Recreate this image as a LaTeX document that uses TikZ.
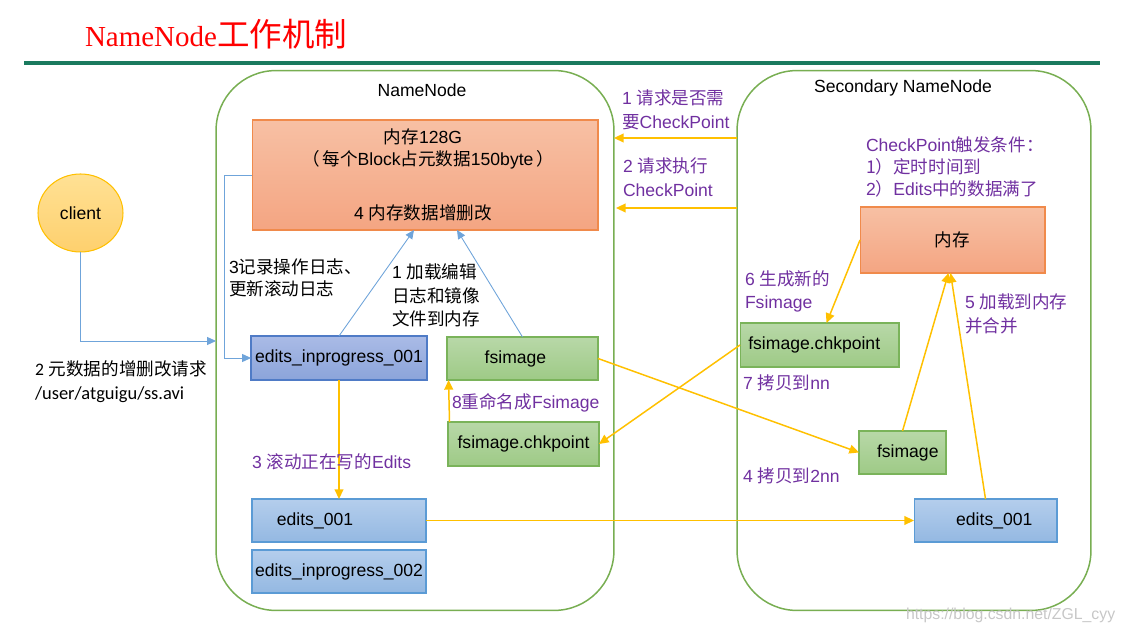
\documentclass[tikz,border=0pt]{standalone}
\usepackage{fontspec}
\setmainfont{Liberation Sans}
\newfontfamily\zh{Noto Sans CJK SC}
\newfontfamily\calib{Carlito}
\newfontfamily\serifnm{Liberation Serif}
\usetikzlibrary{arrows.meta,shapes.geometric,calc}
\definecolor{tgreen}{HTML}{1A7A5E}
\definecolor{cgreen}{HTML}{78AE52}
\definecolor{ycol}{HTML}{FFC000}
\definecolor{bcol}{HTML}{6FA4DA}
\definecolor{purp}{HTML}{7030A0}
\definecolor{orTop}{HTML}{F7C0A4}
\definecolor{orBot}{HTML}{F4A582}
\definecolor{orDraw}{HTML}{F08A4B}
\definecolor{dbTop}{HTML}{AABBE6}
\definecolor{dbBot}{HTML}{8BA4DA}
\definecolor{dbDraw}{HTML}{4F7BC6}
\definecolor{lbTop}{HTML}{B4CEEC}
\definecolor{lbBot}{HTML}{94B8E2}
\definecolor{lbDraw}{HTML}{5B9BD5}
\definecolor{gTop}{HTML}{B8D8A8}
\definecolor{gBot}{HTML}{9ECA86}
\definecolor{gDraw}{HTML}{7AB35A}
\definecolor{clTop}{HTML}{FFE194}
\definecolor{clBot}{HTML}{FED06E}
\definecolor{clDraw}{HTML}{FFC000}
\begin{document}
\begin{tikzpicture}[x=0.02cm,y=-0.02cm,
  every node/.style={font=\fontsize{10}{12.5}\selectfont, inner sep=0pt, outer sep=0pt},
  container/.style={draw=cgreen, line width=0.85pt, rounded corners=1.2cm, minimum height=10.8cm},
  orbox/.style={draw=orDraw, line width=0.6pt, top color=orTop, bottom color=orBot},
  dbbox/.style={draw=dbDraw, line width=0.6pt, top color=dbTop, bottom color=dbBot},
  lbbox/.style={draw=lbDraw, line width=0.6pt, top color=lbTop, bottom color=lbBot},
  gbox/.style={draw=gDraw, line width=0.6pt, top color=gTop, bottom color=gBot},
  ptext/.style={text=purp, align=left, anchor=west},
  btext/.style={text=black, align=left, anchor=west},
  yarrow/.style={draw=ycol, line width=0.85pt, -{Triangle[length=5.5pt,width=5pt]}},
  barrow/.style={draw=bcol, line width=0.5pt, -{Triangle[length=5pt,width=4.5pt]}},
]
\path[use as bounding box] (0,0) rectangle (1125,634);

% title
\node[text=red, anchor=base west] (title) at (85,47) {{\serifnm\fontsize{16.5}{18}\selectfont NameNode}{\zh\fontsize{18.5}{20}\selectfont 工作机制}};
\draw[tgreen, line width=2pt] (24,63) -- (1100,63);

% containers
\node[container, minimum width=7.96cm] (nn) at (415,340.5) {};
\node[container, minimum width=7.08cm] (snn) at (914,340.5) {};
\node (nnlabel) at (422,90) {NameNode};
\node (snnlabel) at (903,88) {Secondary NameNode};

% NameNode memory
\node[orbox, minimum width=6.92cm, minimum height=2.2cm] (mem) at (425,175) {};
\node (memA) at (423,137) {{\zh 内存}128G};
\node (memB) at (428,160) {{\zh （\,每个}Block{\zh 占元数据}150byte{\zh \,）}};
\node (memC) at (423,213) {4 {\zh 内存数据增删改}};

% client
\node[ellipse, draw=clDraw, line width=0.6pt, top color=clTop, bottom color=clBot, minimum width=1.7cm, minimum height=1.56cm] (client) at (80.5,213) {client};
\coordinate (cin) at (216,341);
\draw[barrow] (client.south) |- (cin);
\node[btext] (req) at (35,382) {{\calib 2} {\zh 元数据的增删改请求}\\[1pt]{\calib\fontsize{10.5}{12.5}\selectfont /user/atguigu/ss.avi}};

% NameNode boxes
\node[dbbox, minimum width=3.52cm, minimum height=0.88cm] (ei1) at (339,358) {edits\_inprogress\_001};
\node[gbox, minimum width=3.02cm, minimum height=0.86cm] (fs) at (522.5,358.5) {\hspace*{-8pt}fsimage};
\node[gbox, minimum width=3.02cm, minimum height=0.88cm] (chk) at (523.5,444) {fsimage.chkpoint};
\node[lbbox, minimum width=3.48cm, minimum height=0.86cm] (e1) at (339,520.5) {};
\node (e1t) at (315,521) {edits\_001};
\node[lbbox, minimum width=3.48cm, minimum height=0.86cm] (ei2) at (339,571.5) {edits\_inprogress\_002};

% blue connectors in NameNode
\draw[barrow] (mem.west) -- ++(-28,0) |- (ei1.west);
\draw[barrow] (ei1.north) -- ($(mem.south)+(-11,0)$);
\draw[barrow] (fs.north) -- ($(mem.south)+(32,0)$);
\node[btext] (rec) at (229,278) {3{\zh 记录操作日志、}\\{\zh 更新滚动日志}};
\node[btext] (load) at (392,295.5) {1 {\zh 加载编辑}\\[1pt]{\zh 日志和镜像}\\[1pt]{\zh 文件到内存}};

% yellow in NameNode
\draw[yarrow] ($(chk.north west)+(1.5,0)$) -- ($(fs.south west)+(1.5,0)$);
\node[ptext] (ren) at (452,403) {8{\zh 重命名成}Fsimage};
\draw[yarrow] (ei1.south) -- (ei1.south |- e1.north);
\node[ptext] (roll) at (252,462) {3 {\zh 滚动正在写的}Edits};

% requests between nodes
\coordinate (q1) at (0,138);
\coordinate (q2) at (0,208);
\draw[yarrow] (snn.west |- q1) -- (nn.east |- q1);
\draw[yarrow] (snn.west |- q2) -- ($(nn.east |- q2)+(2,0)$);
\node[ptext] (r1) at (622,110) {1 {\zh 请求是否需}\\[1pt]{\zh 要}CheckPoint};
\node[ptext] (r2) at (623,177) {2 {\zh 请求执行}\\[1pt]CheckPoint};

% Secondary NameNode
\node[ptext] (cond) at (866,166.5) {CheckPoint{\zh 触发条件：}\\{\zh 1）定时时间到}\\2{\zh ）}Edits{\zh 中的数据满了}};
\node[orbox, minimum width=3.7cm, minimum height=1.32cm] (mem2) at (952.5,240) {\zh 内存};
\node[gbox, minimum width=3.18cm, minimum height=0.88cm] (chk2) at (819.5,345) {\hspace*{-6pt}fsimage.chkpoint};
\node[gbox, minimum width=1.74cm, minimum height=0.86cm] (fs2) at (902.5,452.5) {\hspace*{6pt}fsimage};
\node[lbbox, minimum width=2.86cm, minimum height=0.86cm] (e2) at (985.5,520.5) {\hspace*{10pt}edits\_001};

\draw[yarrow] (mem2.west) -- ($(chk2.north)+(7,0)$);
\node[ptext] (gen) at (745,291.5) {6 {\zh 生成新的}\\[1pt]Fsimage};
\draw[yarrow] (chk2.west) -- (chk.east);
\node[ptext] (cp1) at (743,383) {7 {\zh 拷贝到}nn};
\draw[yarrow] (fs.east) -- (fs2.west);
\node[ptext] (cp2) at (743,476) {4 {\zh 拷贝到}2nn};
\draw[yarrow] (e1.east) -- (e1.east -| e2.west);
\draw[yarrow] (fs2.north) -- ($(mem2.south)+(-4,0)$);
\draw[yarrow] ($(e2.north)+(0,0)$) -- ($(mem2.south)+(-2,0)$);
\node[ptext] (merge) at (965,314) {5 {\zh 加载到内存}\\[1pt]{\zh 并合并}};

% watermark
\node[anchor=west, text=black!22, font=\fontsize{9}{11}\selectfont] (wm) at (906,615) {https://blog.csdn.net/ZGL\_cyy};
\end{tikzpicture}
\end{document}
